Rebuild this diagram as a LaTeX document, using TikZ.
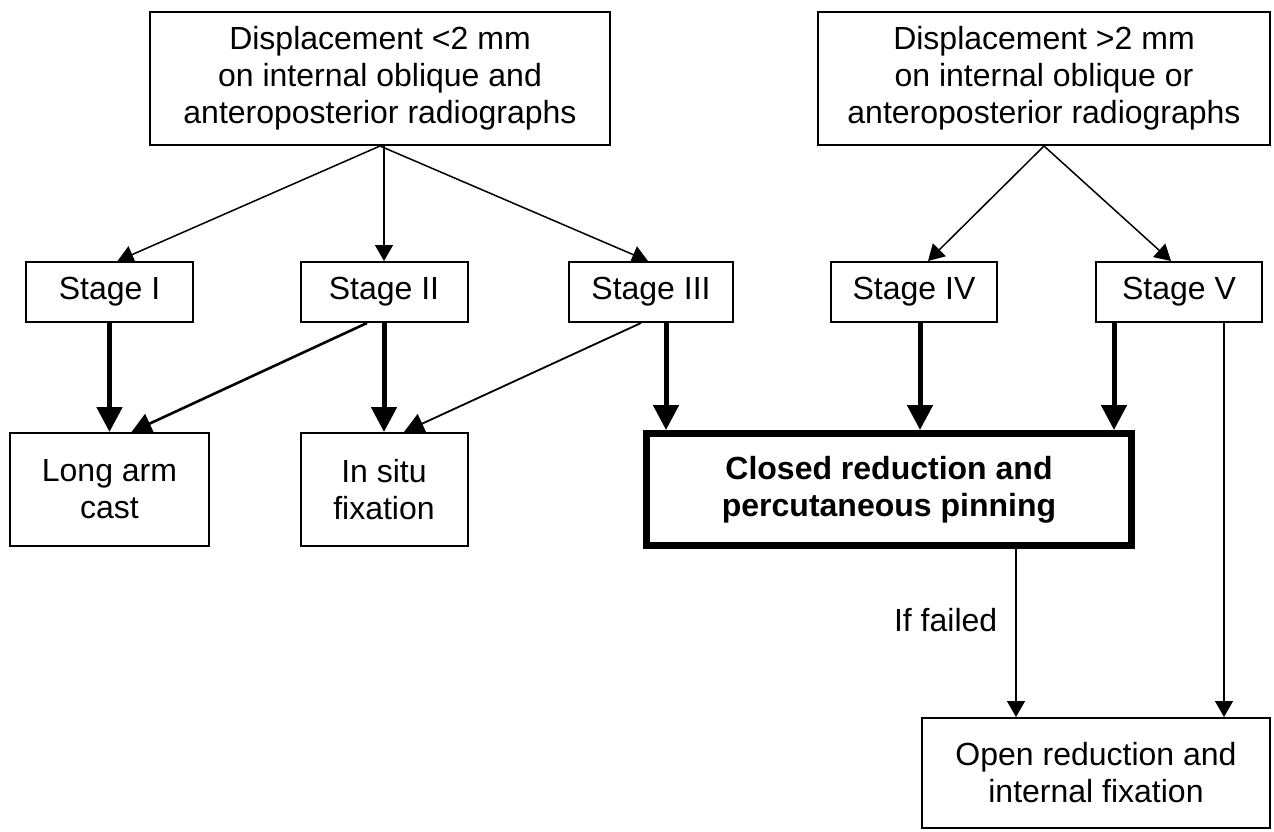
\documentclass[tikz,border=0pt]{standalone}
\usepackage{fontspec}
\setmainfont{Liberation Sans}
\usetikzlibrary{arrows.meta,calc}
\begin{document}
\begin{tikzpicture}[x=1pt,y=-1pt,
  box/.style={draw, line width=2pt, align=center, inner sep=2pt, font=\fontsize{32}{37}\selectfont},
  thinarr/.style={line width=1.5pt, -{Triangle[length=16pt,width=18pt]}},
  thickarr/.style={line width=5pt, -{Triangle[length=25pt,width=25pt]}},
  midarr/.style={line width=2.6pt, -{Triangle[length=20pt,width=21pt]}},
  lbl/.style={font=\fontsize{32}{37}\selectfont, inner sep=2pt}
]
\fill[white] (0,0) rectangle (1274,831);
\useasboundingbox (0,0) rectangle (1274,831);

\node[box, minimum width=460pt, minimum height=133pt] (A) at (380,78.5)
  {Displacement <2 mm\\on internal oblique and\\anteroposterior radiographs};
\node[box, minimum width=452pt, minimum height=133pt] (B) at (1044,78.5)
  {Displacement >2 mm\\on internal oblique or\\anteroposterior radiographs};

\node[box, minimum width=167pt, minimum height=60pt] (s1) at (109.5,292) {Stage I};
\node[box, minimum width=167pt, minimum height=60pt] (s2) at (384,292) {Stage II};
\node[box, minimum width=164pt, minimum height=60pt] (s3) at (651,292) {Stage III};
\node[box, minimum width=166pt, minimum height=60pt] (s4) at (914,292) {Stage IV};
\node[box, minimum width=166pt, minimum height=60pt] (s5) at (1179,292) {Stage V};

\node[box, minimum width=199pt, minimum height=113pt] (cast) at (109.5,489.5) {Long arm\\cast};
\node[box, minimum width=167pt, minimum height=113pt] (situ) at (384,489.5) {In situ\\fixation};
\node[box, line width=7pt, font=\fontsize{32}{37}\selectfont\bfseries, minimum width=485pt, minimum height=112pt] (closed) at (889,489.5)
  {Closed reduction and\\percutaneous pinning};
\node[box, minimum width=348pt, minimum height=110pt] (open) at (1096,773)
  {Open reduction and\\internal fixation};

\draw[thinarr] (A.south) -- ([xshift=8pt]s1.north);
\draw[thinarr] ([xshift=4pt]A.south) -- (s2.north);
\draw[thinarr] (A.south) -- ([xshift=-3pt]s3.north);
\draw[thinarr] (B.south) -- ([xshift=14pt]s4.north);
\draw[thinarr] (B.south) -- ([xshift=-8pt]s5.north);

\draw[thickarr] (s1.south) -- (cast.north);
\draw[thickarr] (s2.south) -- (situ.north);
\draw[thickarr] ([xshift=15pt]s3.south) -- ([xshift=-223pt]closed.north);
\draw[thickarr] ([xshift=6pt]s4.south) -- ([xshift=31pt]closed.north);
\draw[thickarr] ([xshift=-65pt]s5.south) -- ([xshift=225pt]closed.north);

\draw[midarr] ([xshift=-17pt]s2.south) -- ([xshift=22pt]cast.north);
\draw[midarr, line width=1.8pt] ([xshift=-10pt]s3.south) -- ([xshift=20pt]situ.north);

\draw[thinarr] ([xshift=45pt]s5.south) -- ([xshift=128pt]open.north);
\draw[thinarr] ([xshift=127pt]closed.south) -- node[lbl, left=16pt, pos=0.42] {If failed} ([xshift=-80pt]open.north);
\end{tikzpicture}
\end{document}
